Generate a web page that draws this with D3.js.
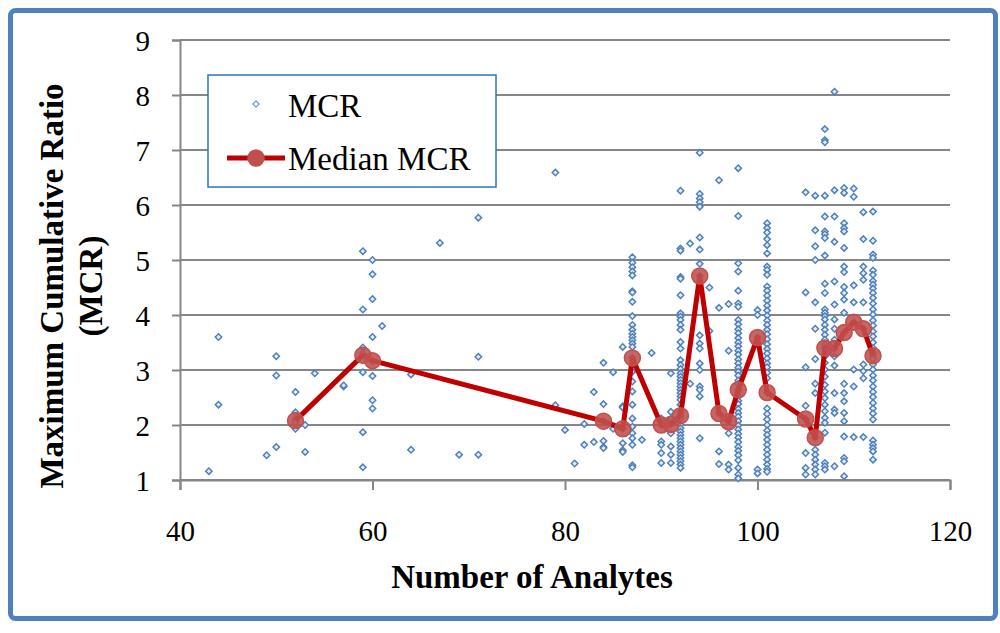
<!DOCTYPE html>
<html>
<head>
<meta charset="utf-8">
<script src="https://cdn.jsdelivr.net/npm/d3@7"></script>
<style>
  body { margin: 0; background: #fff; }
  svg text { font-family: "Liberation Serif", "Times New Roman", serif; }
</style>
</head>
<body>
<div class="graphics"></div>
<script>
// median MCR per number of analytes
var medianAnalytes = [52, 59, 60, 84, 86, 87, 90, 91, 92, 94, 96, 97, 98, 100, 101, 105, 106, 107, 108, 109, 110, 111, 112];
var medianMCR = [2.08, 3.27, 3.17, 2.07, 1.93, 3.22, 2.0, 2.01, 2.17, 4.71, 2.21, 2.06, 2.64, 3.59, 2.59, 2.11, 1.77, 3.4, 3.39, 3.68, 3.87, 3.75, 3.26];

// every MCR value, grouped by number of analytes
var mcrAnalytes = [43, 44, 49, 50, 52, 53, 54, 57, 59, 60, 61, 64, 67, 69, 71, 79, 80, 81, 82, 83, 84, 85, 86, 87, 88, 89,
  90, 91, 92, 93, 94, 95, 96, 97, 98, 100, 101, 105, 106, 107, 108, 109, 110, 111, 112];
var mcrValues = [
  [1.16],
  [3.6, 2.37],
  [1.45],
  [3.25, 2.9, 1.6],
  [2.6, 2.23, 2.1, 2.05, 1.93],
  [2.0, 1.51],
  [2.94],
  [2.7, 2.72],
  [5.16, 4.1, 3.41, 3.3, 2.96, 1.87, 1.23],
  [5.0, 4.74, 4.29, 3.6, 3.15, 2.89, 2.45, 2.3],
  [3.8],
  [2.92, 1.55],
  [5.31],
  [1.46],
  [5.77, 3.24, 1.46],
  [6.59, 2.36],
  [1.91],
  [1.3],
  [2.02, 1.64],
  [2.6, 1.69],
  [3.13, 2.38, 2.07, 1.71, 1.6, 1.58],
  [2.96, 1.93],
  [3.42, 2.34, 2.32, 1.93, 1.67, 1.54, 1.51],
  [5.05, 4.95, 4.87, 4.79, 4.72, 4.43, 4.41, 4.24, 3.98, 3.82, 3.73, 3.66, 3.6, 3.54, 3.48, 3.42, 3.22, 2.97, 2.79,
   2.61, 2.37, 2.12, 1.97, 1.85, 1.76, 1.64, 1.27, 1.23],
  [1.73],
  [3.31],
  [2.12, 2.0, 1.7, 1.64, 1.49, 1.31],
  [2.94, 2.24, 2.12, 2.02, 1.85, 1.61, 1.46, 1.31],
  [6.26, 5.21, 5.17, 4.69, 4.66, 4.36, 4.03, 3.97, 3.91, 3.82, 3.73, 3.51, 3.39, 3.18, 3.09, 3.02, 2.94, 2.88, 2.82,
   2.76, 2.7, 2.64, 2.58, 2.52, 2.46, 2.37, 2.24, 2.17, 2.12, 2.0, 1.94, 1.88, 1.82, 1.76, 1.7, 1.64, 1.58, 1.52,
   1.46, 1.4, 1.34, 1.28, 1.22],
  [5.3, 2.75],
  [6.95, 6.2, 6.12, 6.05, 5.97, 5.41, 5.19, 4.93, 4.71, 3.63, 3.48, 3.39, 3.12, 3.0, 2.7, 2.64, 2.52, 1.76],
  [4.5, 3.71],
  [6.45, 4.13, 2.21, 1.52, 1.29],
  [4.2, 3.35, 2.06, 1.85, 1.28, 1.19],
  [6.67, 5.8, 4.94, 4.79, 4.44, 4.21, 4.15, 3.91, 3.83, 3.74, 3.67, 3.58, 3.5, 3.43, 3.35, 3.28, 3.19, 3.12, 3.04,
   2.97, 2.9, 2.81, 2.75, 2.64, 2.6, 2.52, 2.44, 2.38, 2.29, 2.22, 2.15, 2.07, 1.99, 1.92, 1.84, 1.77, 1.69, 1.6,
   1.53, 1.45, 1.36, 1.22, 1.1, 1.03],
  [4.09, 4.0, 3.59, 3.5, 1.19, 1.12],
  [5.67, 5.58, 5.5, 5.38, 5.27, 5.12, 4.88, 4.82, 4.73, 4.52, 4.44, 4.35, 4.26, 4.17, 4.08, 3.99, 3.9, 3.82, 3.73,
   3.65, 3.56, 3.47, 3.38, 3.3, 3.21, 3.12, 3.05, 2.95, 2.85, 2.59, 2.3, 2.2, 2.1, 2.0, 1.9, 1.82, 1.73, 1.64, 1.55,
   1.46, 1.37, 1.28, 1.2, 1.15],
  [6.23, 4.41, 3.05, 2.35, 2.11, 1.49, 1.22, 1.1],
  [6.17, 5.54, 5.25, 5.0, 4.23, 3.75, 3.2, 2.75, 2.58, 1.77, 1.55, 1.46, 1.37, 1.28, 1.19, 1.1],
  [7.38, 7.18, 7.14, 6.17, 5.79, 5.52, 5.47, 5.4, 5.08, 4.57, 4.4, 4.1, 4.04, 3.98, 3.92, 3.82, 3.73, 3.64, 3.55,
   3.46, 3.4, 3.25, 3.13, 3.01, 2.88, 2.73, 2.61, 2.49, 2.37, 2.25, 2.13, 2.04, 1.86, 1.31, 1.25, 1.19],
  [8.06, 6.27, 5.79, 5.33, 4.61, 4.19, 3.92, 3.75, 3.55, 3.39, 3.25, 3.08, 2.58, 2.28, 2.22, 1.25],
  [6.31, 6.22, 5.67, 5.58, 5.52, 5.22, 4.88, 4.78, 4.51, 4.4, 4.28, 4.04, 3.68, 2.75, 2.58, 2.43, 2.22, 2.07, 1.79,
   1.4, 1.34, 1.07],
  [6.3, 6.15, 4.54, 4.23, 3.87, 3.01, 2.7, 1.78],
  [5.87, 5.38, 4.88, 4.76, 4.64, 4.23, 3.75, 3.1, 2.98, 2.85, 1.78],
  [5.88, 5.35, 5.1, 5.04, 4.81, 4.73, 4.62, 4.55, 4.48, 4.4, 4.31, 4.21, 4.1, 4.01, 3.9, 3.81, 3.7, 3.61, 3.5, 3.4,
   3.31, 3.26, 3.2, 3.1, 3.01, 2.9, 2.81, 2.7, 2.6, 2.51, 2.4, 2.3, 2.21, 2.1, 1.72, 1.64, 1.58, 1.52, 1.37]
];

var xTicks = [40, 60, 80, 100, 120];
var yTicks = [1, 2, 3, 4, 5, 6, 7, 8, 9];

var w = 1000, h = 633;
var plotLeft = 180, plotRight = 950, plotTop = 40, plotBottom = 480;

function drawChart(){
    var svg = d3.select('.graphics')
        .append('svg')
        .attr('width', w)
        .attr('height', h);

    // outer frame
    svg.append('rect')
        .attr('x', 10.5).attr('y', 10.5)
        .attr('width', 985).attr('height', 608)
        .attr('rx', 5)
        .attr('fill', 'white')
        .attr('stroke', '#4f81bd')
        .attr('stroke-width', 5);

    var x = d3.scaleLinear().domain([40, 120]).range([plotLeft, plotRight]);
    var y = d3.scaleLinear().domain([1, 9]).range([plotBottom, plotTop]);

    // grid
    svg.append('g')
        .selectAll('line')
        .data(yTicks)
        .enter()
        .append('line')
        .attr('x1', plotLeft).attr('x2', plotRight)
        .attr('y1', function(d){ return y(d); })
        .attr('y2', function(d){ return y(d); })
        .attr('stroke', '#868686')
        .attr('stroke-width', 2);

    var yAxis = svg.append('g')
        .attr('transform', 'translate(' + plotLeft + ',0)')
        .call(d3.axisLeft(y).tickValues(yTicks).tickSize(8).tickPadding(22).tickFormat(d3.format('d')));

    var xAxis = svg.append('g')
        .attr('transform', 'translate(0,' + plotBottom + ')')
        .call(d3.axisBottom(x).tickValues(xTicks).tickSize(10).tickPadding(30).tickFormat(d3.format('d')));

    [yAxis, xAxis].forEach(function(g){
        g.select('.domain').attr('stroke', '#868686').attr('stroke-width', 2);
        g.selectAll('.tick line').attr('stroke', '#868686').attr('stroke-width', 2);
        g.selectAll('.tick text')
            .attr('fill', 'black')
            .style('font-family', '"Liberation Serif", serif')
            .style('font-size', '29px');
    });
    yAxis.selectAll('.tick text').attr('dy', '0.36em');

    // scatter points
    var pts = [];
    mcrAnalytes.forEach(function(a, i){
        mcrValues[i].forEach(function(v){ pts.push({n: a, v: v}); });
    });
    var diamond = d3.symbol().type(d3.symbolDiamond2 || d3.symbolDiamond).size(26);

    svg.append('g')
        .selectAll('path')
        .data(pts)
        .enter()
        .append('path')
        .attr('d', diamond)
        .attr('transform', function(d){ return 'translate(' + x(d.n) + ',' + y(d.v) + ')'; })
        .attr('fill', '#e6eef8')
        .attr('stroke', '#4f81bd')
        .attr('stroke-width', 1.5);

    // median line
    var med = medianAnalytes.map(function(a, i){ return {n: a, v: medianMCR[i]}; });
    var line = d3.line()
        .x(function(d){ return x(d.n); })
        .y(function(d){ return y(d.v); });

    svg.append('path')
        .datum(med)
        .attr('d', line)
        .attr('fill', 'none')
        .attr('stroke', '#c00000')
        .attr('stroke-width', 5)
        .attr('stroke-linejoin', 'round');

    svg.append('g')
        .selectAll('circle')
        .data(med)
        .enter()
        .append('circle')
        .attr('cx', function(d){ return x(d.n); })
        .attr('cy', function(d){ return y(d.v); })
        .attr('r', 8)
        .attr('fill', '#c0504d')
        .attr('fill-opacity', 0.88)
        .attr('stroke', '#c0504d')
        .attr('stroke-width', 1.5);

    // legend
    var lg = svg.append('g');
    lg.append('rect')
        .attr('x', 208).attr('y', 75)
        .attr('width', 288).attr('height', 112)
        .attr('fill', 'white')
        .attr('stroke', '#2e75b6')
        .attr('stroke-width', 1.5);
    lg.append('path')
        .attr('d', diamond)
        .attr('transform', 'translate(256,104)')
        .attr('fill', '#eef3fa')
        .attr('stroke', '#7ba0d0')
        .attr('stroke-width', 1.3);
    lg.append('text')
        .attr('x', 288).attr('y', 117)
        .style('font-size', '33px')
        .text('MCR');
    lg.append('line')
        .attr('x1', 227).attr('x2', 285)
        .attr('y1', 158).attr('y2', 158)
        .attr('stroke', '#c00000')
        .attr('stroke-width', 5);
    lg.append('circle')
        .attr('cx', 256).attr('cy', 158)
        .attr('r', 8)
        .attr('fill', '#c0504d')
        .attr('stroke', '#c0504d')
        .attr('stroke-width', 1.5);
    lg.append('text')
        .attr('x', 288).attr('y', 170)
        .style('font-size', '33px')
        .text('Median MCR');

    // axis titles
    svg.append('text')
        .attr('x', 532).attr('y', 588)
        .attr('text-anchor', 'middle')
        .style('font-size', '33px')
        .style('font-weight', 'bold')
        .text('Number of Analytes');

    svg.append('text')
        .attr('transform', 'translate(63,286) rotate(-90)')
        .attr('text-anchor', 'middle')
        .style('font-size', '33px')
        .style('font-weight', 'bold')
        .text('Maximum Cumulative Ratio');

    svg.append('text')
        .attr('transform', 'translate(102,286) rotate(-90)')
        .attr('text-anchor', 'middle')
        .style('font-size', '33px')
        .style('font-weight', 'bold')
        .text('(MCR)');
}

drawChart()
</script>
</body>
</html>
